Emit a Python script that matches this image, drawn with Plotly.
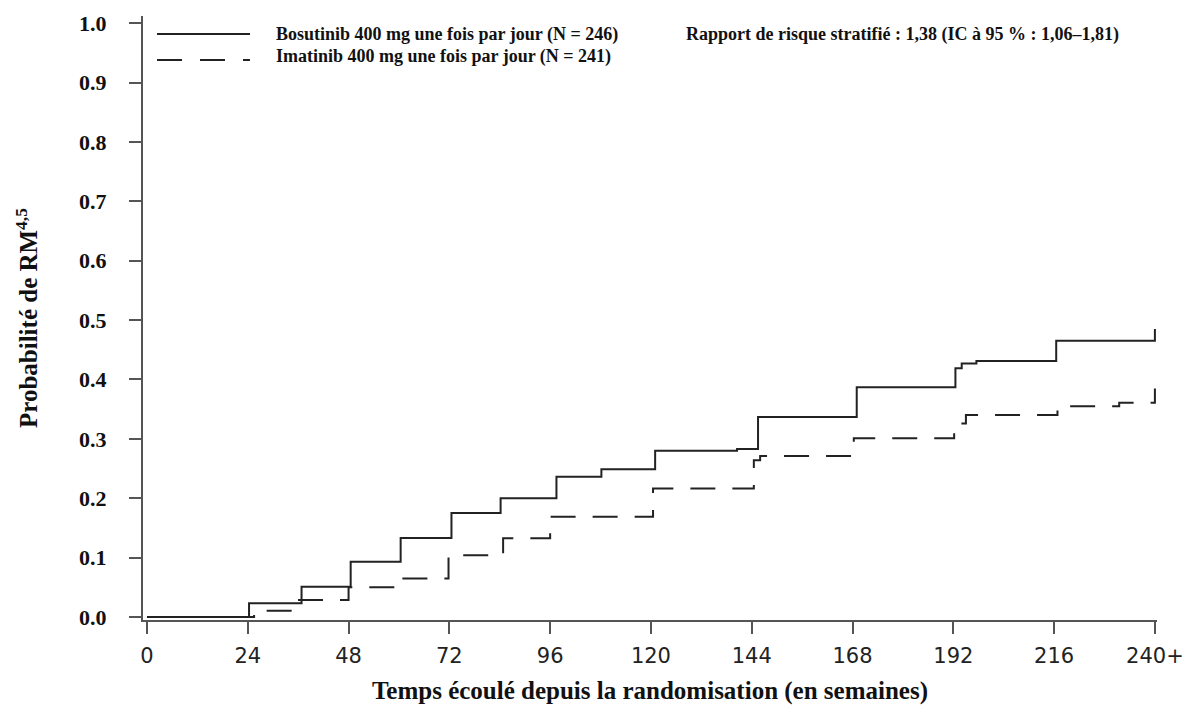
import plotly.graph_objects as go

# ---- data ----
bosutinib_weeks = [0, 24.3, 36.8, 48.5, 60.4, 72.5, 84.2, 97.5, 108.2, 121.0, 140.5, 145.5,
                   169.0, 192.5, 194.0, 197.5, 216.5, 240.0, 240.0]
bosutinib_prob = [0.0, 0.023, 0.051, 0.093, 0.133, 0.175, 0.200, 0.236, 0.249, 0.280, 0.283, 0.337,
                  0.387, 0.419, 0.427, 0.431, 0.465, 0.465, 0.485]

imatinib_weeks = [0, 25.5, 36.2, 48.0, 60.5, 71.8, 84.8, 96.0, 120.5, 144.5, 146.0,
                  168.3, 192.2, 195.0, 216.8, 231.5, 240.0, 240.0]
imatinib_prob = [0.0, 0.0107, 0.0286, 0.050, 0.065, 0.104, 0.1325, 0.169, 0.2166, 0.264, 0.271,
                 0.301, 0.326, 0.340, 0.355, 0.361, 0.361, 0.385]

x_tickvals = [0, 24, 48, 72, 96, 120, 144, 168, 192, 216, 240]
x_ticktext = ["0", "24", "48", "72", "96", "120", "144", "168", "192", "216", "240+"]
y_tickvals = [0.0, 0.1, 0.2, 0.3, 0.4, 0.5, 0.6, 0.7, 0.8, 0.9, 1.0]
y_ticktext = ["0.0", "0.1", "0.2", "0.3", "0.4", "0.5", "0.6", "0.7", "0.8", "0.9", "1.0"]

series_names = ["Bosutinib 400 mg une fois par jour (N = 246)",
                "Imatinib 400 mg une fois par jour (N = 241)"]
hr_text = "Rapport de risque stratifié : 1,38 (IC à 95 % : 1,06–1,81)"
x_title = "Temps écoulé depuis la randomisation (en semaines)"
y_title = "Probabilité de RM<sup>4,5</sup>"

# ---- layout geometry (body margin removed by post_script) ----
W, H = 1185, 706
ML, MR, MT, MB = 143, 28, 16, 86
PW, PH = W - ML - MR, H - MT - MB

def px_x(px):  # page pixel -> paper fraction
    return (px - ML) / PW

def px_y(py):
    return (MT + PH - py) / PH

SERIF = "Liberation Serif"
INK = "#222222"
AXIS = "#555555"
DASH = "25px,17px"

fig = go.Figure()
fig.add_trace(go.Scatter(x=bosutinib_weeks, y=bosutinib_prob, mode="lines",
                         line=dict(shape="hv", color=INK, width=2),
                         name=series_names[0], showlegend=False))
fig.add_trace(go.Scatter(x=imatinib_weeks, y=imatinib_prob, mode="lines",
                         line=dict(shape="hv", color=INK, width=2, dash=DASH),
                         name=series_names[1], showlegend=False))

# legend samples (decoration)
fig.add_shape(type="line", xref="paper", yref="paper",
              x0=px_x(157), x1=px_x(250), y0=px_y(34), y1=px_y(34),
              line=dict(color=INK, width=2))
fig.add_shape(type="line", xref="paper", yref="paper",
              x0=px_x(157), x1=px_x(250), y0=px_y(60), y1=px_y(60),
              line=dict(color=INK, width=2, dash="25px,18px"))

leg_font = dict(family=SERIF, size=18, color="#111111", weight="bold")
fig.add_annotation(text=series_names[0], xref="paper", yref="paper",
                   x=px_x(274), y=px_y(34), xanchor="left", yanchor="middle",
                   showarrow=False, font=leg_font)
fig.add_annotation(text=series_names[1], xref="paper", yref="paper",
                   x=px_x(274), y=px_y(57), xanchor="left", yanchor="middle",
                   showarrow=False, font=leg_font)
fig.add_annotation(text=hr_text, xref="paper", yref="paper",
                   x=px_x(684), y=px_y(34), xanchor="left", yanchor="middle",
                   showarrow=False, font=leg_font)

fig.update_layout(
    width=W, height=H,
    margin=dict(l=ML, r=MR, t=MT, b=MB, pad=0),
    paper_bgcolor="white", plot_bgcolor="white",
    showlegend=False,
    xaxis=dict(range=[-0.95, 240.5], tickvals=x_tickvals, ticktext=x_ticktext,
               showgrid=False, zeroline=False, showline=True, linecolor=AXIS, linewidth=2,
               ticks="outside", ticklen=12, tickwidth=1.5, tickcolor=AXIS,
               tickfont=dict(family="DejaVu Sans", size=21, color=INK),
               ticklabelstandoff=4,
               title=dict(text=x_title, standoff=14,
                          font=dict(family=SERIF, size=25, color="#111111", weight="bold")),
               automargin=False),
    yaxis=dict(range=[-0.005, 1.012], tickvals=y_tickvals, ticktext=y_ticktext,
               showgrid=False, zeroline=False, showline=True, linecolor=AXIS, linewidth=2,
               ticks="outside", ticklen=12, tickwidth=1.5, tickcolor=AXIS,
               tickfont=dict(family=SERIF, size=22, color="#111111", weight="bold"),
               ticklabelstandoff=18,
               title=dict(text=y_title, standoff=34,
                          font=dict(family=SERIF, size=25, color="#111111", weight="bold")),
               automargin=False),
)

fig.write_html("out.html", config={"displayModeBar": False},
               post_script="document.body.style.margin='0';document.body.style.overflow='hidden';")
